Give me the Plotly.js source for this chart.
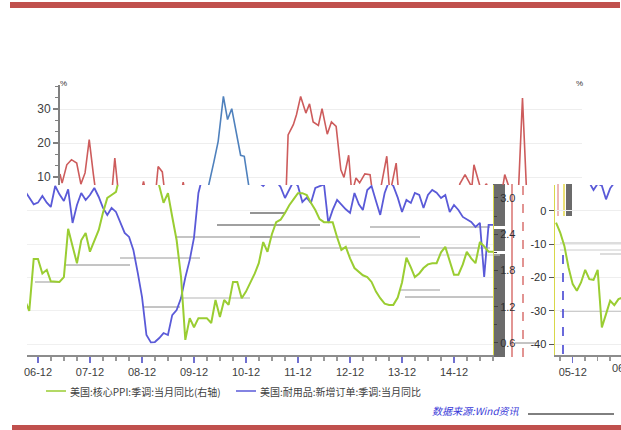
<!DOCTYPE html>
<html>
<head>
<meta charset="utf-8">
<script src="https://cdn.plot.ly/plotly-3.0.1.min.js"></script>
<style>html,body{margin:0;padding:0;background:#fff;}#chart{width:621px;height:430px;}</style>
</head>
<body>
<div id="chart"></div>
<script>
// ---- Lower chart data: monthly, starting 2006-09 ----
const corePPI = [ // 美国:核心PPI:季调:当月同比 (right axis)
  1.30,1.13,1.99,1.99,1.75,1.81,1.62,1.61,1.61,1.69,2.49,2.20,
  1.92,2.30,2.42,2.11,2.30,2.47,2.75,3.00,3.05,3.10,3.40,3.60,
  3.90,4.10,4.30,4.40,4.30,4.00,3.60,3.20,2.92,3.08,2.69,2.30,
  1.69,0.65,1.01,0.86,1.01,1.01,1.01,0.93,1.31,1.03,1.31,1.23,
  1.61,1.61,1.34,1.45,1.59,1.75,1.92,2.27,2.11,2.40,2.60,2.64,
  2.75,2.88,2.98,3.08,3.08,3.05,2.92,2.80,2.65,2.60,2.60,2.60,
  2.35,2.14,2.19,2.00,1.84,1.78,1.72,1.69,1.61,1.45,1.34,1.25,
  1.23,1.23,1.35,1.60,2.01,1.85,1.69,1.75,1.84,1.90,1.92,1.92,
  2.10,2.19,1.95,1.73,1.73,1.90,2.11,2.00,1.92,2.27,2.20,2.11,
  2.11
];
const durableOrders = [ // 美国:耐用品:新增订单:季调:当月同比
  6.0,4.0,2.0,2.5,4.5,2.5,1.2,7.5,5.0,3.0,6.5,-3.6,
  1.8,5.4,3.3,4.8,6.9,4.2,1.0,-1.2,0.9,-0.3,-3.6,-6.6,
  -7.8,-11.7,-18.6,-25.9,-37.3,-39.5,-39.4,-38.2,-36.7,-37.3,-31.3,-29.8,
  -26.2,-20.0,-14.7,-8.0,5.4,12,18,22,26,30,28,24,
  20,17,15,13,11,9.5,8.5,7.5,9,10,9,7.2,
  3.9,6.3,9,7.5,2.7,4,2.4,6.9,7.5,8,-3.6,0.3,
  3.3,1.8,0.5,-0.6,5.4,2,0.3,6.3,7.5,3,-1.2,5.4,
  9,7.5,4,-0.3,3.3,2.4,5.4,4.8,0.9,4.8,6.3,5.5,
  3.9,4.8,-0.3,1.8,0.3,-1.8,-2.5,-3.3,-4.8,-3.6,-19.8,-4.2,
  -4.2
];
const months = [];
for (let i = 0; i < corePPI.length; i++) {
  const d = new Date(Date.UTC(2006, 8 + i, 1));
  months.push(d.toISOString().slice(0, 10));
}
const lowerTickLabelFormat = '%y-%m';

// ---- Upper chart data (index positions along its own axis) ----
const upRedX = [0,0.4,1.3,2.2,3.2,4.0,4.8,5.6,6.4,6.9,9.9,10.5,11.2,15.5,16,16.5,18.3,18.8,19.6,20.1,23.2,23.6,24.0,
  43.3,43.7,44.7,45.3,46.1,47.1,47.8,48.5,49.5,50.2,51.2,52.0,52.9,53.8,54.4,55.3,55.9,56.7,57.4,58.4,59.4,59.9,
  61.2,61.6,62.6,63.2,64.4,64.9,76.2,76.6,77.6,78.9,79.3,80.1,80.7,81.7,82.3,84.6,84.9,85.2,85.8,86.5,87.8,88.6,89.4,100];
const upRedY = [10.9,8.2,13.6,15.1,14.1,7.9,11.2,21,10.7,5,5,15.6,5,5,8.7,5,5,13.1,11.5,5,5,8.5,5,
  5,22.4,25.4,28.3,33.7,28.8,31.5,26.2,25.2,30.1,22.6,26.2,24.9,12.1,9.9,16.4,5,9.7,8.3,10.9,10.7,5,
  5,8.0,16.1,5,14.1,5,5,8.0,10.7,7,13.6,9.2,6,8,5,5,8,10.7,8,5,5,33.2,5,5];
const upBlueX = [28.0,28.4,29.5,30.3,31.3,32.1,32.9,33.8,34.6,35.3,36.4];
const upBlueY = [5,7,14.6,20.5,33.7,26.9,30.1,23.4,16.4,16.1,5];

// ---- Inset (right) data ----
const insetMonths = [-4,-3,-2,-1,0,1,2,3,4,5,6,7,8,9,10,11,12];
const insetGreen = [-3.5,-6.5,-10.5,-17,-22,-24,-21.5,-17.7,-20.5,-20.7,-17.7,-35,-31,-27,-28.3,-26.5,-26];
const insetBlueMonths = [4,5,6,7,8,9,10];
const insetBlue = [8.5,6.3,8.2,7.6,3.5,6.8,8.5];

const legendNames = ['美国:核心PPI:季调:当月同比(右轴)', '美国:耐用品:新增订单:季调:当月同比'];
const sourceText = '数据来源:Wind资讯';

// ---- helpers (pixel -> paper) ----
const W = 621, H = 430;
const X = p => p / W;
const Y = p => 1 - p / H;

const GREEN = '#9acd32', BLUE = '#5a5ad8', RED = '#cd5c5c', SBLUE = '#4f81bd';
const numFont = {family: 'Liberation Sans, Arial, sans-serif', size: 11, color: '#404040'};
const cjk = 'Noto Sans CJK SC, sans-serif';

const traces = [
  {x: months, y: durableOrders, xaxis: 'x', yaxis: 'y', type: 'scatter', mode: 'lines',
   line: {color: BLUE, width: 1.8}, showlegend: false, hoverinfo: 'skip'},
  {x: months, y: corePPI, xaxis: 'x', yaxis: 'y2', type: 'scatter', mode: 'lines',
   line: {color: GREEN, width: 2}, showlegend: false, hoverinfo: 'skip'},
  {x: upRedX, y: upRedY, xaxis: 'x2', yaxis: 'y3', type: 'scatter', mode: 'lines',
   line: {color: RED, width: 1.6}, showlegend: false, hoverinfo: 'skip'},
  {x: upBlueX, y: upBlueY, xaxis: 'x2', yaxis: 'y3', type: 'scatter', mode: 'lines',
   line: {color: SBLUE, width: 1.6}, showlegend: false, hoverinfo: 'skip'},
  {x: insetBlueMonths, y: insetBlue, xaxis: 'x3', yaxis: 'y5', type: 'scatter', mode: 'lines',
   line: {color: BLUE, width: 1.8}, showlegend: false, hoverinfo: 'skip'},
  {x: insetMonths, y: insetGreen, xaxis: 'x3', yaxis: 'y5', type: 'scatter', mode: 'lines',
   line: {color: GREEN, width: 2}, showlegend: false, hoverinfo: 'skip'}
];

const hline = (x0, x1, y, color, w) => ({type: 'line', xref: 'paper', yref: 'paper',
  x0: X(x0), x1: X(x1), y0: Y(y), y1: Y(y), line: {color: color, width: w}, layer: 'below'});

const shapes = [
  // top and bottom red bars
  {type: 'rect', xref: 'paper', yref: 'paper', x0: X(10), x1: X(620), y0: Y(8), y1: Y(2),
   fillcolor: '#c0504d', line: {width: 0}},
  {type: 'rect', xref: 'paper', yref: 'paper', x0: X(12), x1: X(621), y0: Y(430), y1: Y(425),
   fillcolor: '#c0504d', line: {width: 0}},
  // dark bar behind lower right axis
  {type: 'rect', xref: 'paper', yref: 'paper', x0: X(493), x1: X(505), y0: Y(357), y1: Y(184),
   fillcolor: '#6b6b6b', line: {width: 0}, layer: 'below'},
  {type: 'rect', xref: 'paper', yref: 'paper', x0: X(493), x1: X(505), y0: Y(229), y1: Y(226),
   fillcolor: '#ffffff', line: {width: 0}, layer: 'below'},
  {type: 'rect', xref: 'paper', yref: 'paper', x0: X(493), x1: X(505), y0: Y(254), y1: Y(251),
   fillcolor: '#ffffff', line: {width: 0}, layer: 'below'},
  // dark blocks near inset top
  {type: 'rect', xref: 'paper', yref: 'paper', x0: X(566), x1: X(572), y0: Y(216), y1: Y(184),
   fillcolor: '#6b6b6b', line: {width: 0}, layer: 'below'},
  {type: 'line', xref: 'paper', yref: 'paper', x0: X(558), x1: X(558), y0: Y(216), y1: Y(184),
   line: {color: '#d9726f', width: 1}, layer: 'below'},
  {type: 'line', xref: 'paper', yref: 'paper', x0: X(564), x1: X(564), y0: Y(216), y1: Y(184),
   line: {color: '#e6d84a', width: 1.5}, layer: 'below'},
  // red vertical lines
  {type: 'line', xref: 'paper', yref: 'paper', x0: X(512), x1: X(512), y0: Y(357), y1: Y(184),
   line: {color: '#d9726f', width: 1.5}, layer: 'below'},
  {type: 'line', xref: 'paper', yref: 'paper', x0: X(523), x1: X(523), y0: Y(357), y1: Y(184),
   line: {color: '#d9726f', width: 1.5, dash: 'dash'}, layer: 'below'},
  // blue dashed vertical in inset
  {type: 'line', xref: 'paper', yref: 'paper', x0: X(563), x1: X(563), y0: Y(354), y1: Y(251),
   line: {color: '#5a5ad8', width: 1.8, dash: 'dash'}},
  // connector near 0.6 / -40
  hline(515, 536, 343, '#888888', 1),
  // grey horizontal streaks
  hline(217, 320, 225, '#a0a0a0', 2),
  hline(175, 270, 237, '#b0b0b0', 1.5),
  hline(65, 130, 265, '#8a8a8a', 1),
  hline(35, 60, 282, '#999999', 1),
  hline(143, 180, 307, '#8a8a8a', 1),
  hline(180, 250, 298, '#b5b5b5', 1),
  hline(250, 285, 213, '#707070', 1.5),
  hline(370, 490, 227, '#b0b0b0', 1.5),
  hline(250, 420, 237, '#8a8a8a', 1),
  hline(300, 490, 248, '#c0c0c0', 1.5),
  hline(350, 500, 255, '#cccccc', 1),
  hline(400, 440, 290, '#999999', 1),
  hline(405, 493, 297, '#8a8a8a', 1),
  hline(120, 200, 258, '#9a9a9a', 1),
  hline(560, 621, 243, '#bbbbbb', 1),
  hline(560, 621, 250, '#cccccc', 1),
  hline(560, 621, 311, '#999999', 1),
  hline(600, 621, 254, '#bbbbbb', 1),
  // legend samples
  {type: 'line', xref: 'paper', yref: 'paper', x0: X(46), x1: X(66), y0: Y(391), y1: Y(391),
   line: {color: GREEN, width: 1.5}},
  {type: 'line', xref: 'paper', yref: 'paper', x0: X(236), x1: X(256), y0: Y(391), y1: Y(391),
   line: {color: BLUE, width: 1.5}},
  // black rule after source
  {type: 'line', xref: 'paper', yref: 'paper', x0: X(528), x1: X(614), y0: Y(414), y1: Y(414),
   line: {color: '#000000', width: 1}}
];

const annotations = [
  {xref: 'paper', yref: 'paper', x: X(68), y: Y(391), xanchor: 'left', yanchor: 'middle',
   text: legendNames[0], showarrow: false, font: {family: cjk, size: 10, color: '#404040'}},
  {xref: 'paper', yref: 'paper', x: X(258), y: Y(391), xanchor: 'left', yanchor: 'middle',
   text: legendNames[1], showarrow: false, font: {family: cjk, size: 10, color: '#404040'}},
  {xref: 'paper', yref: 'paper', x: X(430), y: Y(410), xanchor: 'left', yanchor: 'middle',
   text: '<i>' + sourceText + '</i>', showarrow: false, font: {family: cjk, size: 10, color: '#3a3ad8'}},
  {xref: 'paper', yref: 'paper', x: X(63), y: Y(84), xanchor: 'center', yanchor: 'middle',
   text: '%', showarrow: false, font: {family: 'Liberation Sans, Arial', size: 8, color: '#333'}},
  {xref: 'paper', yref: 'paper', x: X(579), y: Y(84), xanchor: 'center', yanchor: 'middle',
   text: '%', showarrow: false, font: {family: 'Liberation Sans, Arial', size: 8, color: '#333'}},
  {xref: 'paper', yref: 'paper', x: X(626), y: Y(368), xanchor: 'center', yanchor: 'middle',
   text: '06-12', showarrow: false, font: numFont}
];

const layout = {
  width: W, height: H, autosize: false,
  margin: {l: 0, r: 0, t: 0, b: 0, pad: 0},
  paper_bgcolor: '#ffffff', plot_bgcolor: 'rgba(0,0,0,0)',
  showlegend: false,
  xaxis: {
    type: 'date', domain: [X(27), X(493)], anchor: 'y',
    range: ['2006-09-15', '2015-09-01'],
    tick0: '2006-12-01', dtick: 'M12', tickformat: lowerTickLabelFormat,
    showline: true, linecolor: '#8c8c8c', linewidth: 2,
    ticks: 'outside', ticklen: 6, tickwidth: 1.5, tickcolor: '#7070d0',
    minor: {tick0: '2006-12-01', dtick: 'M3', ticks: 'outside', ticklen: 4, tickcolor: '#999999', showgrid: false},
    showgrid: false, zeroline: false, tickfont: numFont, fixedrange: true
  },
  yaxis: {
    domain: [Y(355), Y(185)], anchor: 'x', range: [-43.3, 7.8],
    showticklabels: false, ticks: '', showline: false, zeroline: false,
    showgrid: true, gridcolor: '#f0f0f0', dtick: 10, tick0: 0, fixedrange: true
  },
  yaxis2: {
    overlaying: 'y', side: 'right', anchor: 'x', range: [0.40, 3.215],
    tickmode: 'linear', tick0: 0, dtick: 0.6, tickformat: '.1f',
    showline: true, linecolor: '#d8d84a', linewidth: 1,
    ticks: 'outside', ticklen: 4, tickcolor: '#444',
    minor: {tickmode: 'linear', tick0: 0, dtick: 0.3, ticks: 'outside', ticklen: 3, tickcolor: '#444', showgrid: false},
    showgrid: false, zeroline: false, tickfont: {family: 'Liberation Sans, Arial', size: 11, color: '#303030'},
    fixedrange: true
  },
  xaxis2: {
    domain: [X(60), X(582)], anchor: 'y3', range: [0, 100], visible: false, fixedrange: true
  },
  yaxis3: {
    domain: [Y(185), Y(85)], anchor: 'x2', range: [7.65, 37.06],
    tickmode: 'linear', tick0: 10, dtick: 10,
    showline: true, linecolor: '#808080', linewidth: 2,
    ticks: 'outside', ticklen: 5, tickcolor: '#808080', tickwidth: 1.5,
    minor: {tickmode: 'linear', tick0: 10, dtick: 10 / 3, ticks: 'outside', ticklen: 3, tickcolor: '#808080', showgrid: false},
    showgrid: true, gridcolor: '#eeeeee', zeroline: false,
    tickfont: {family: 'Liberation Sans, Arial', size: 12, color: '#404040'}, fixedrange: true
  },
  yaxis4: {
    overlaying: 'y3', side: 'right', anchor: 'x2', range: [3.228, 4.918],
    tickmode: 'linear', tick0: 0, dtick: 0.6, tickformat: '.1f',
    showline: true, linecolor: '#808080', linewidth: 2,
    ticks: 'outside', ticklen: 5, tickcolor: '#808080', tickwidth: 1.5,
    minor: {tickmode: 'linear', tick0: 0, dtick: 0.3, ticks: 'outside', ticklen: 3, tickcolor: '#808080', showgrid: false},
    showgrid: false, zeroline: false,
    tickfont: {family: 'Liberation Sans, Arial', size: 11, color: '#404040'}, fixedrange: true
  },
  xaxis3: {
    domain: [X(555), 1], anchor: 'y5', range: [-4.25, 11.6],
    tickmode: 'array', tickvals: [0], ticktext: ['05-12'],
    showline: true, linecolor: '#8c8c8c', linewidth: 2,
    ticks: 'outside', ticklen: 6, tickcolor: '#7070d0', tickwidth: 1.5,
    minor: {tickmode: 'linear', tick0: 0, dtick: 3, ticks: 'outside', ticklen: 4, tickcolor: '#999999', showgrid: false},
    showgrid: false, zeroline: false, tickfont: numFont, fixedrange: true
  },
  yaxis5: {
    domain: [Y(355), Y(185)], anchor: 'x3', range: [-43.3, 7.8],
    tickmode: 'array', tickvals: [0, -10, -20, -30, -40], ticktext: ['0', '-10', '-20', '-30', '-40'],
    showline: true, linecolor: '#d8d84a', linewidth: 1.5,
    ticks: 'outside', ticklen: 5, tickcolor: '#555',
    showgrid: true, gridcolor: '#eeeeee', zeroline: false,
    tickfont: {family: 'Liberation Sans, Arial', size: 11, color: '#303030'}, fixedrange: true
  },
  shapes: shapes,
  annotations: annotations
};

Plotly.newPlot('chart', traces, layout, {staticPlot: true, displayModeBar: false});
</script>
</body>
</html>
